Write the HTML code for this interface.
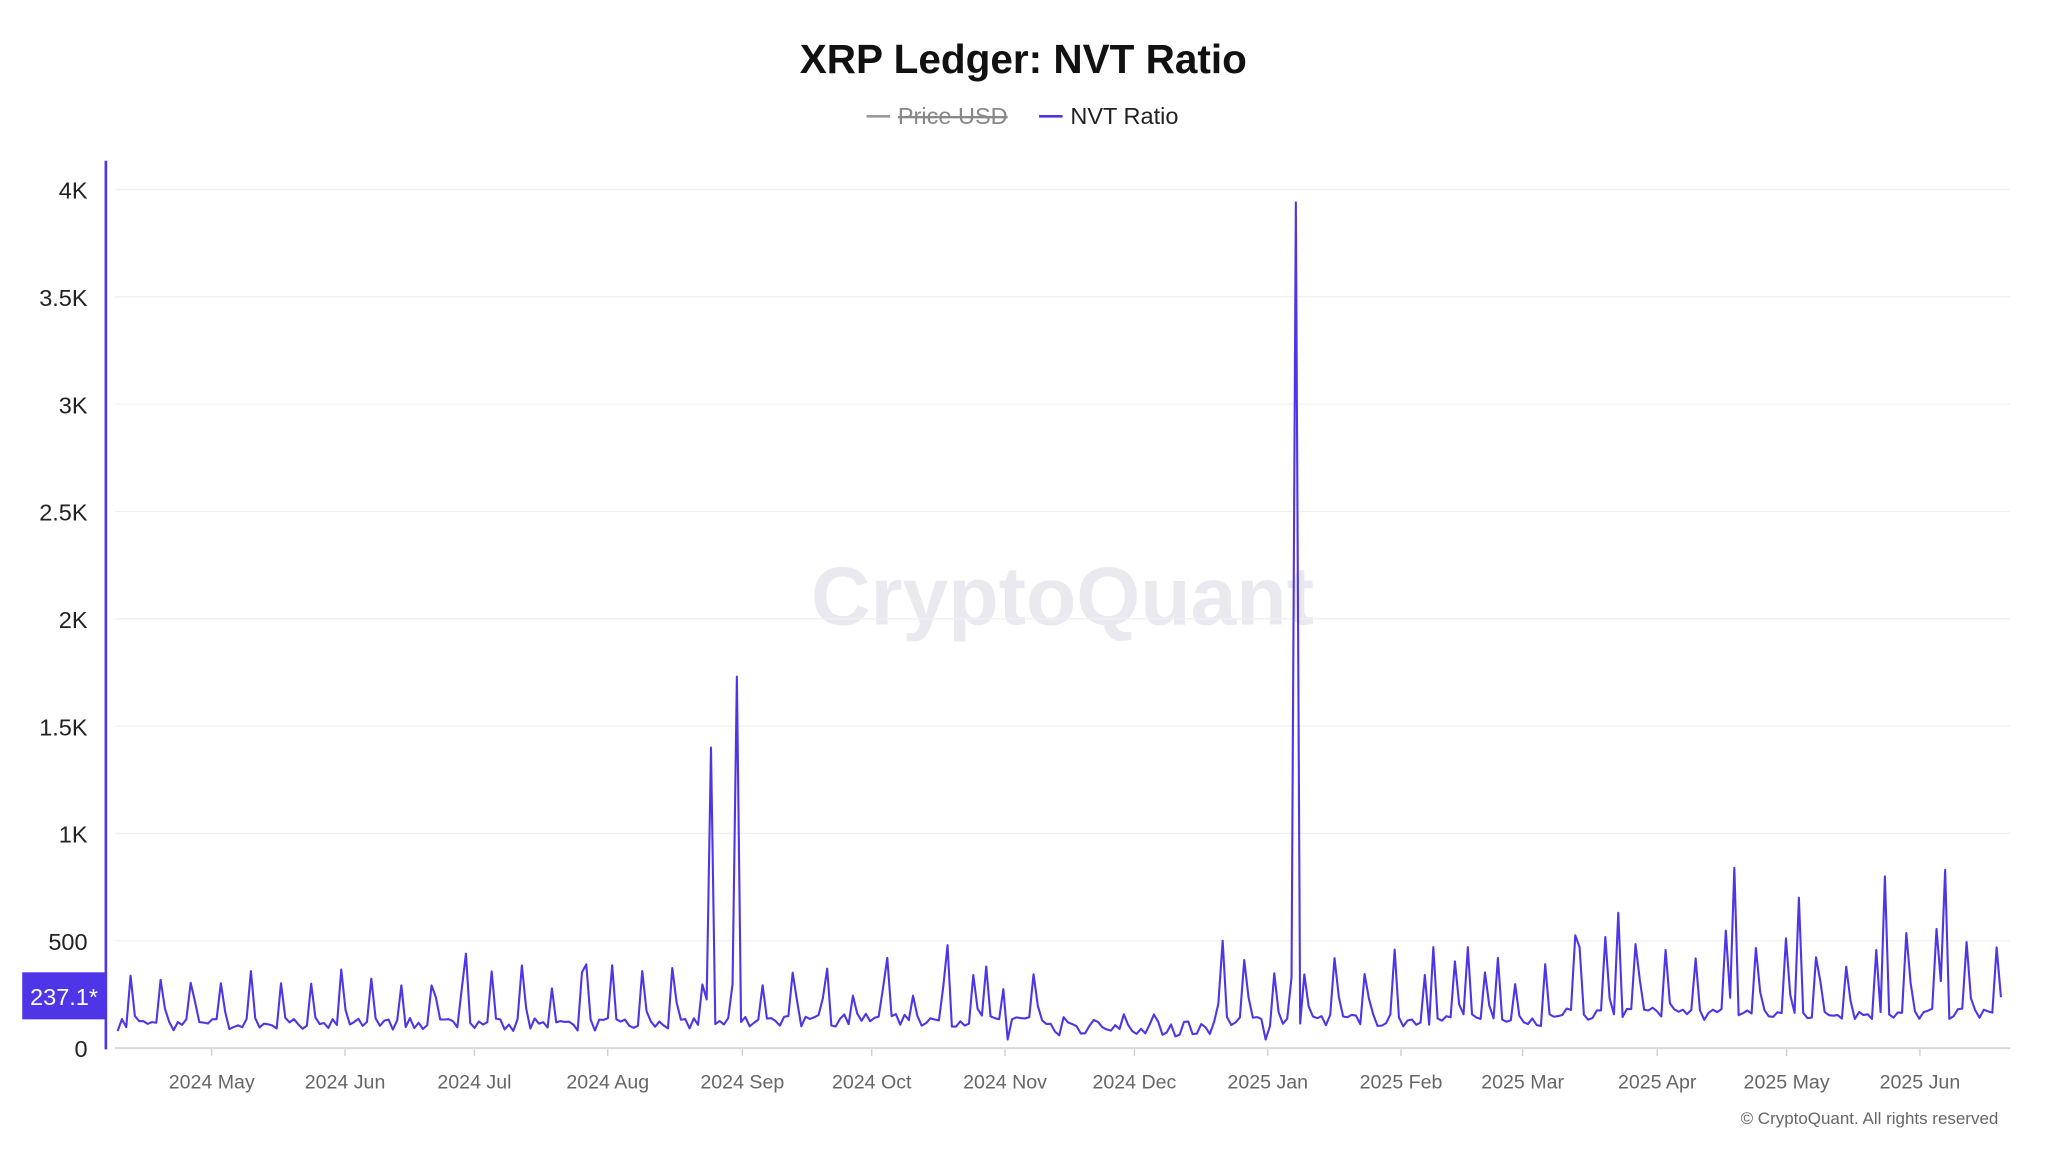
<!DOCTYPE html>
<html><head><meta charset="utf-8"><style>
html,body{margin:0;padding:0;background:#fff;}
svg{display:block;font-family:"Liberation Sans",sans-serif;}
</style></head><body>
<svg id="s" width="2048" height="1152" viewBox="0 0 1567 881.5" preserveAspectRatio="none" xmlns="http://www.w3.org/2000/svg">
<text x="783" y="56" text-anchor="middle" font-size="31" font-weight="bold" fill="#111">XRP Ledger: NVT Ratio</text>
<line x1="663" y1="89" x2="681" y2="89" stroke="#999" stroke-width="2"/>
<text x="687" y="95" font-size="18" fill="#888" text-decoration="line-through">Price USD</text>
<line x1="795" y1="89" x2="813" y2="89" stroke="#4f35e8" stroke-width="2"/>
<text x="819" y="95" font-size="18" fill="#222">NVT Ratio</text>
<text x="813" y="478" text-anchor="middle" font-size="63" font-weight="bold" fill="#ebe9f0">CryptoQuant</text>
<g id="grid" stroke="#f0f0f3" stroke-width="1"></g>
<g id="ylab" font-size="18" fill="#222" text-anchor="end"></g>
<line x1="88" y1="802" x2="1538" y2="802" stroke="#d8d8e0" stroke-width="1.5"/>
<g id="xlab" font-size="15" fill="#666" text-anchor="middle"></g>
<line x1="81" y1="123" x2="81" y2="803" stroke="#4f35e8" stroke-width="2"/>
<polyline id="line" fill="none" stroke="#4f35e8" stroke-width="1.6" stroke-linejoin="round"/>
<rect x="17" y="744" width="64" height="36" fill="#4f35e8"/>
<text x="49" y="769" text-anchor="middle" font-size="18" fill="#fff">237.1*</text>
<text x="1529" y="860" text-anchor="end" font-size="13" fill="#666">© CryptoQuant. All rights reserved</text>
</svg>
<script>
var NS="http://www.w3.org/2000/svg";
function el(p,t,a,txt){var e=document.createElementNS(NS,t);for(var k in a)e.setAttribute(k,a[k]);if(txt)e.textContent=txt;document.getElementById(p).appendChild(e);return e;}
var labs=["0","500","1K","1.5K","2K","2.5K","3K","3.5K","4K"];
for(var i=0;i<9;i++){var y=802-i*82.125;if(i>0)el("grid","line",{x1:88,x2:1538,y1:y,y2:y});el("ylab","text",{x:67,y:y+7},labs[i]);}
var xl=[["2024 May",162],["2024 Jun",264],["2024 Jul",363],["2024 Aug",465],["2024 Sep",568],["2024 Oct",667],["2024 Nov",769],["2024 Dec",868],["2025 Jan",970],["2025 Feb",1072],["2025 Mar",1165],["2025 Apr",1268],["2025 May",1367],["2025 Jun",1469]];
xl.forEach(function(a){el("xlab","text",{x:a[1],y:833},a[0]);el("grid","line",{x1:a[1],x2:a[1],y1:802,y2:808,stroke:"#ccc"});});
var seed=7;function r(){seed=(seed*16807)%2147483647;return seed/2147483647;}
var pts=[],N=439,vals=[];
for(var d=0;d<N;d++){var x=90+d*3.29;var amp,base;
 if(x<530){amp=230;base=80;}else if(x<800){amp=170;base=100;}else if(x<930){amp=60;base=55;}else if(x<1190){amp=260;base=100;}else{amp=330;base=130;}
 var v=base+r()*60;if(d%7==3)v+=amp*(0.7+r()*0.5);if(d%7==4)v+=amp*0.5*r();vals.push(v);}
var sp=[[544,1400],[565,1730],[772,1160],[990,3940],[937,500],[726,480],[1327,840],[1376,700],[1442,800],[1489,830],[1237,630],[357,440],[449,390],[1097,470],[1122,470],[1145,420],[680,420],[753,380],[634,370],[1210,470],[968,40],[770,40],[987,330]];
sp.forEach(function(s){var d=Math.round((s[0]-90)/3.29);if(d>=0&&d<N)vals[d]=s[1];});
vals[N-1]=237.1;
for(var d=0;d<N;d++){pts.push((90+d*3.29).toFixed(1)+","+(802-vals[d]*0.16425).toFixed(1));}
document.getElementById("line").setAttribute("points",pts.join(" "));
</script>
</body></html>
